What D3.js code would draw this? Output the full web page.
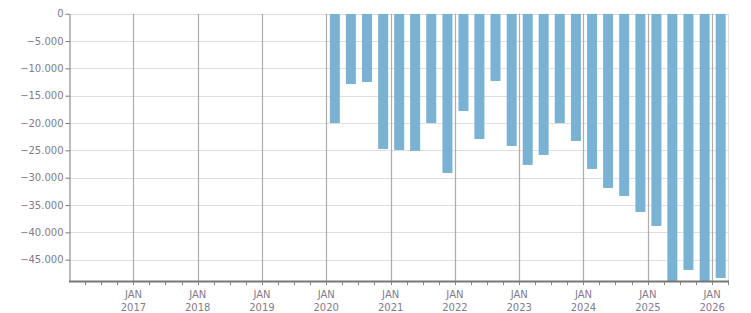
<!DOCTYPE html>
<html>
<head>
<meta charset="utf-8">
<script src="https://cdn.jsdelivr.net/npm/d3@7"></script>
<style>
  body { margin: 0; background: #fff; }
  svg { display: block; }
  .tick text { font-family: "DejaVu Sans", sans-serif; font-size: 10px; fill: #827b8e; }
</style>
</head>
<body>
<svg id="chart" width="751" height="313"></svg>
<script>
// quarterly data, Q1 2020 .. Q1 2026
let quarters = ["2020-01", "2020-04", "2020-07", "2020-10",
                "2021-01", "2021-04", "2021-07", "2021-10",
                "2022-01", "2022-04", "2022-07", "2022-10",
                "2023-01", "2023-04", "2023-07", "2023-10",
                "2024-01", "2024-04", "2024-07", "2024-10",
                "2025-01", "2025-04", "2025-07", "2025-10",
                "2026-01"];
let values = [-20000, -12860, -12490, -24750,
              -24930, -25110, -20000, -29140,
              -17800, -22920, -12310, -24200,
              -27670, -25840, -20000, -23280,
              -28400, -31880, -33340, -36270,
              -38830, -52000, -46880, -51000,
              -48340];
let yTicks = [0, -5000, -10000, -15000, -20000, -25000, -30000, -35000, -40000, -45000];
let yMin = -48900;

let svg = d3.select("#chart");
let margin = {left: 69, top: 13.7, right: 23, bottom: 32};
let width = 751, height = 313;
let parse = d3.timeParse("%Y-%m");
let data = quarters.map((q, i) => ({date: parse(q), value: values[i]}));

let x = d3.scaleTime()
    .domain([new Date(2016, 0, 1), new Date(2026, 3, 1)])
    .range([margin.left, width - margin.right]);
let y = d3.scaleLinear()
    .domain([yMin, 0])
    .range([height - margin.bottom, margin.top]);

let loc = d3.formatLocale({decimal: ",", thousands: ".", grouping: [3], currency: ["", ""]});
let fmt = loc.format(",");

let yearTicks = x.ticks(d3.timeYear.every(1)).filter(d => d > x.domain()[0]);
let quarterTicks = x.ticks(d3.timeMonth.every(3));

// horizontal grid
svg.append("g")
    .selectAll("line")
    .data(yTicks)
    .join("line")
    .attr("x1", margin.left).attr("x2", width - margin.right)
    .attr("y1", d => Math.round(y(d)) + 0.5).attr("y2", d => Math.round(y(d)) + 0.5)
    .attr("stroke", "#dedede")
    .attr("stroke-width", 1);

// right border
svg.append("line")
    .attr("x1", width - margin.right + 0.5).attr("x2", width - margin.right + 0.5)
    .attr("y1", y(0)).attr("y2", y(yMin))
    .attr("stroke", "#dedede");

// vertical year grid
svg.append("g")
    .selectAll("line")
    .data(yearTicks)
    .join("line")
    .attr("x1", d => Math.round(x(d)) + 0.5).attr("x2", d => Math.round(x(d)) + 0.5)
    .attr("y1", y(0)).attr("y2", y(yMin))
    .attr("stroke", "#adadad")
    .attr("stroke-width", 1.2);

// bars
let barW = 10;
svg.append("clipPath").attr("id", "clip")
    .append("rect")
    .attr("x", margin.left).attr("y", y(0))
    .attr("width", width - margin.right - margin.left)
    .attr("height", y(yMin) - y(0));

svg.append("g")
    .attr("clip-path", "url(#clip)")
    .selectAll("rect")
    .data(data)
    .join("rect")
    .attr("x", d => {
        let next = d3.timeMonth.offset(d.date, 3);
        return (x(d.date) + x(next)) / 2 - barW / 2 + 0.6;
    })
    .attr("width", barW)
    .attr("y", y(0))
    .attr("height", d => y(Math.max(d.value, yMin)) - y(0))
    .attr("fill", "#7ab2d4");

// y axis
let yAxis = svg.append("g")
    .attr("transform", "translate(" + (margin.left + 0.5) + ",0)")
    .call(d3.axisLeft(y).tickValues(yTicks).tickFormat(fmt).tickSize(4).tickSizeOuter(0).tickPadding(2));
yAxis.select(".domain").attr("stroke", "#777");
yAxis.selectAll(".tick line").attr("stroke", "#777");

// x axis: minor quarter ticks
svg.append("g")
    .selectAll("line")
    .data(quarterTicks.filter(d => d > x.domain()[0]))
    .join("line")
    .attr("x1", d => Math.round(x(d)) + 0.5).attr("x2", d => Math.round(x(d)) + 0.5)
    .attr("y1", y(yMin)).attr("y2", y(yMin) + 4)
    .attr("stroke", "#888");

svg.append("line")
    .attr("x1", margin.left).attr("x2", width - margin.right + 1)
    .attr("y1", y(yMin) + 0.5).attr("y2", y(yMin) + 0.5)
    .attr("stroke", "#777")
    .attr("stroke-width", 2);

// year labels
let labels = svg.append("g")
    .selectAll("text")
    .data(yearTicks)
    .join("text")
    .attr("text-anchor", "middle")
    .attr("x", d => x(d))
    .style("font-family", "DejaVu Sans, sans-serif")
    .style("font-size", "10px")
    .attr("fill", "#827b8e");
labels.append("tspan").attr("x", d => x(d)).attr("y", 298).text("JAN");
labels.append("tspan").attr("x", d => x(d)).attr("y", 311).text(d => d3.timeFormat("%Y")(d));
</script>
</body>
</html>
